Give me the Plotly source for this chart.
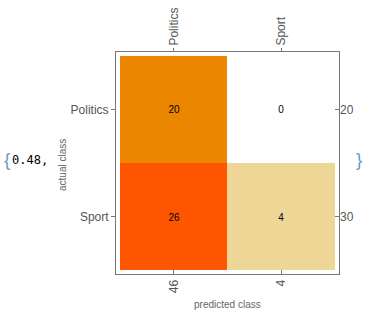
import plotly.graph_objects as go

# Confusion matrix: rows = actual class, columns = predicted class
classes = ["Politics", "Sport"]
counts = [
    [20, 0],
    [26, 4],
]
accuracy = 0.48

row_totals = [sum(r) for r in counts]
col_totals = [sum(counts[i][j] for i in range(len(counts))) for j in range(len(classes))]

zmax = max(max(r) for r in counts)
colorscale = [
    [0.0, "#ffffff"],
    [4 / zmax, "#eed796"],
    [20 / zmax, "#eb8600"],
    [1.0, "#fe5600"],
]

pad = 0.037
xr = [-0.5 - pad, len(classes) - 0.5 + pad]
yr = [len(classes) - 0.5 + pad, -0.5 - pad]

frame = "#777777"
tickfont = dict(family="Liberation Sans, Arial, sans-serif", size=12, color="#555555")

fig = go.Figure()
fig.add_trace(go.Heatmap(
    z=counts,
    x=[0, 1], y=[0, 1],
    colorscale=colorscale, zmin=0, zmax=zmax,
    showscale=False,
    texttemplate="%{z}",
    textfont=dict(family="Liberation Sans, Arial, sans-serif", size=10, color="black"),
    hoverinfo="skip",
))
# invisible trace so the top/right axes are drawn
fig.add_trace(go.Scatter(x=[0, 1], y=[0, 1], xaxis="x2", yaxis="y2",
                         mode="markers", marker=dict(opacity=0), hoverinfo="skip",
                         showlegend=False))

common = dict(showgrid=False, zeroline=False, automargin=False, tickfont=tickfont,
              tickcolor=frame)
fig.update_layout(
    width=386, height=324,
    margin=dict(l=116, r=47, t=52, b=50),
    paper_bgcolor="white", plot_bgcolor="white",
    showlegend=False,
    xaxis=dict(range=xr, tickvals=[0, 1], ticktext=[str(v) for v in col_totals],
               tickangle=-90, ticks="inside", ticklen=4,
               showline=True, linecolor=frame, linewidth=1, mirror=True, **common),
    xaxis2=dict(range=xr, overlaying="x", side="top", tickvals=[0, 1], ticktext=classes,
                tickangle=-90, ticks="outside", ticklen=3, showline=False, **common),
    yaxis=dict(range=yr, tickvals=[0, 1], ticktext=classes,
               ticks="outside", ticklen=4,
               showline=True, linecolor=frame, linewidth=1, mirror=True, **common),
    yaxis2=dict(range=yr, overlaying="y", side="right", tickvals=[0, 1],
                ticktext=[str(v) for v in row_totals],
                ticks="inside", ticklen=4, showline=False, **common),
)

label_font = dict(family="Liberation Sans, Arial, sans-serif", size=10, color="#666666")
fig.add_annotation(text="actual class", xref="paper", yref="paper",
                   x=(62 - 116) / 223, y=(274 - 165) / 222, textangle=-90,
                   xanchor="center", yanchor="middle",
                   showarrow=False, font=label_font)
fig.add_annotation(text="predicted class", xref="paper", yref="paper",
                   x=(227 - 116) / 223, y=(274 - 304) / 222,
                   xanchor="center", yanchor="middle",
                   showarrow=False, font=label_font)

# surrounding list braces and the accuracy value
brace_font = dict(family="Liberation Sans, sans-serif", size=19, color="#6f9cc4")
mid_y = (274 - 159) / 222
fig.add_annotation(text="{", xref="paper", yref="paper",
                   x=(2 - 116) / 223, y=mid_y, xanchor="left", yanchor="middle",
                   showarrow=False, font=brace_font)
fig.add_annotation(text=f"{accuracy:.2f},", xref="paper", yref="paper",
                   x=(10 - 116) / 223, y=(274 - 160) / 222, xanchor="left",
                   yanchor="middle", showarrow=False,
                   font=dict(family="DejaVu Sans Mono, monospace", size=12, color="black"))
fig.add_annotation(text="}", xref="paper", yref="paper",
                   x=(354 - 116) / 223, y=mid_y, xanchor="left", yanchor="middle",
                   showarrow=False, font=brace_font)

fig.write_html("out.html")
